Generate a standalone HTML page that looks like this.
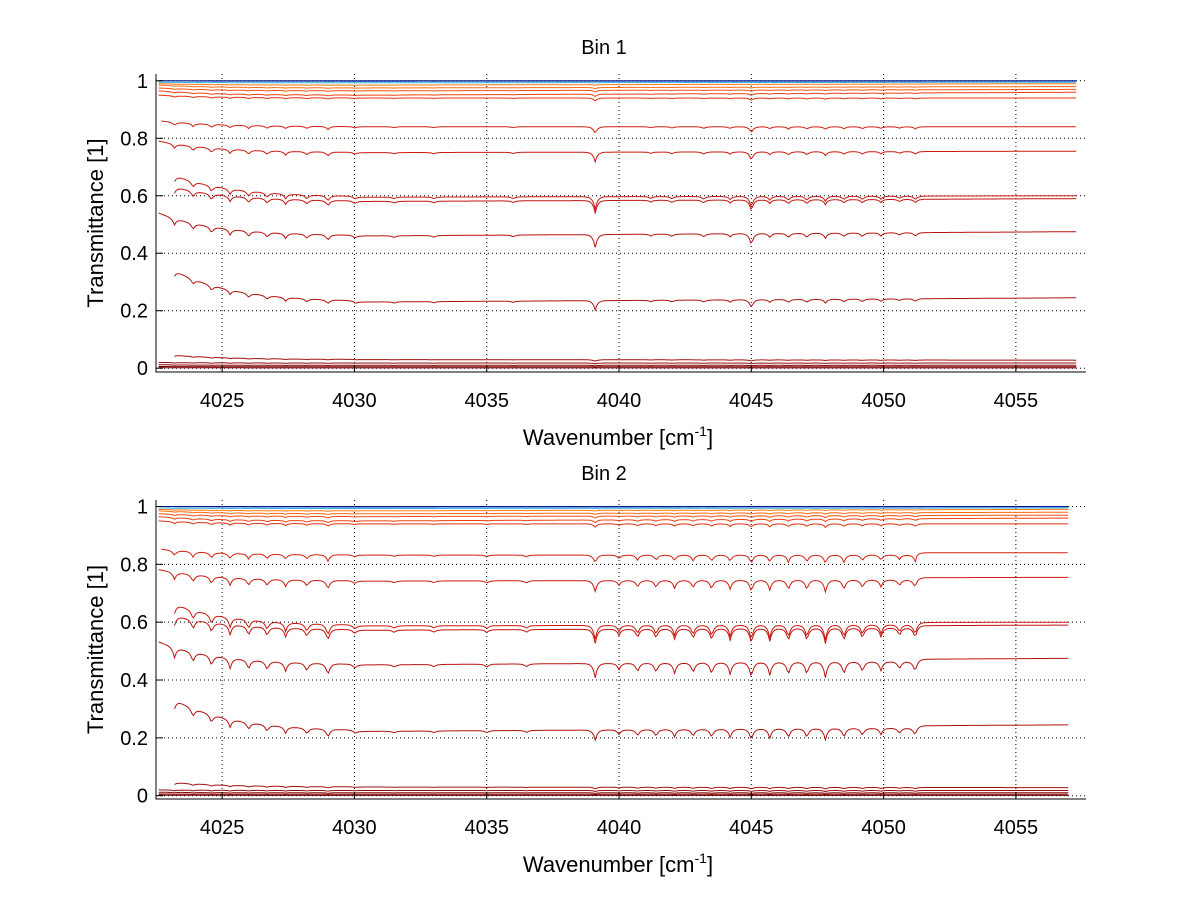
<!DOCTYPE html>
<html><head><meta charset="utf-8"><style>
html,body{margin:0;padding:0;background:#fff;width:1200px;height:901px;overflow:hidden}
svg{display:block;font-family:"Liberation Sans",sans-serif}
</style></head><body>
<svg id="chart" width="1200" height="901"></svg>
<script>
// ---- data ----
const xTicks = [4025, 4030, 4035, 4040, 4045, 4050, 4055];
const yTicks = [0, 0.2, 0.4, 0.6, 0.8, 1];
const yTickLabels = ["0", "0.2", "0.4", "0.6", "0.8", "1"];
const panelTitles = ["Bin 1", "Bin 2"];
// series: left value, plateau value, right value
const seriesLeft  = [1.0, 1.0, 0.995, 0.99, 0.985, 0.975, 0.965, 0.95, 0.86, 0.79, 0.67, 0.63, 0.54, 0.34, 0.045, 0.02, 0.012, 0.006, 0.002];
const seriesMid   = [1.0, 0.998, 0.993, 0.985, 0.975, 0.965, 0.95, 0.94, 0.84, 0.75, 0.595, 0.58, 0.46, 0.23, 0.03, 0.018, 0.01, 0.005, 0.001];
const seriesRight = [1.0, 0.999, 0.995, 0.99, 0.98, 0.97, 0.96, 0.94, 0.84, 0.755, 0.60, 0.59, 0.475, 0.245, 0.028, 0.018, 0.01, 0.005, 0.001];
const seriesColor = ["#0a1a8a","#1f5fd0","#30b0e0","#ff7a10","#ff6a10","#f85010","#f04010","#e03010","#d42010","#cc1a10","#c81810","#c01510","#b81410","#b01210","#a01010","#901010","#880808","#800000","#700000"];
const seriesStartTop = [4022.6,4022.6,4022.6,4022.6,4022.6,4022.6,4022.6,4022.6,4022.7,4022.6,4023.2,4023.2,4022.6,4023.2,4023.2,4022.6,4022.6,4022.6,4022.6];
const seriesEndTop = 4057.3;
const seriesEndBottom = 4057.0;
// absorption line positions and relative strengths
const linesTop = [4023.2,4023.9,4024.6,4025.3,4026.0,4026.7,4027.4,4028.2,4029.0,4030.0,4031.5,4033.0,4036.0,4039.1,4041.2,4042.0,4043.2,4044.2,4045.0,4045.7,4046.4,4047.1,4047.8,4048.5,4049.2,4049.9,4050.6,4051.2];
const strengthTop = [0.5,0.5,0.5,0.45,0.45,0.4,0.4,0.35,0.45,0.2,0.15,0.15,0.15,1.0,0.15,0.2,0.25,0.25,0.9,0.3,0.35,0.35,0.4,0.3,0.3,0.25,0.2,0.3];
const linesBottom = [4023.2,4023.9,4024.6,4025.3,4026.0,4026.7,4027.4,4028.2,4029.0,4030.0,4031.5,4033.0,4035.0,4036.5,4039.1,4040.0,4040.7,4041.4,4042.1,4042.8,4043.5,4044.2,4045.0,4045.7,4046.4,4047.1,4047.8,4048.5,4049.2,4049.9,4050.6,4051.2];
const strengthBottom = [0.8,0.8,0.8,0.8,0.75,0.7,0.7,0.65,0.9,0.3,0.2,0.2,0.25,0.25,1.1,0.5,0.7,0.75,0.8,0.8,0.9,0.9,1.2,1.0,1.0,1.0,1.2,1.0,0.8,0.7,0.6,0.9];

// ---- layout ----
const NS="http://www.w3.org/2000/svg";
const svg=document.getElementById('chart');
const xmin=4022.5,xmax=4057.65;
const panels=[{left:156,right:1086,top:74,bottom:372,y0:368.2,y1:80.8,lines:linesTop,str:strengthTop,end:seriesEndTop,step:0},
              {left:156,right:1086,top:500,bottom:799,y0:795.7,y1:506.5,lines:linesBottom,str:strengthBottom,end:seriesEndBottom,step:1}];
function mk(tag,attrs,parent){const e=document.createElementNS(NS,tag);for(const k in attrs)e.setAttribute(k,attrs[k]);(parent||svg).appendChild(e);return e;}

panels.forEach((p,pi)=>{
  const sx=v=>p.left+(v-xmin)/(xmax-xmin)*(p.right-p.left);
  const sy=v=>p.y0+(p.y1-p.y0)*v;
  const g=mk('g',{});
  
  
  xTicks.forEach(t=>{const l=mk('line',{x1:sx(t),x2:sx(t),y1:p.top,y2:p.bottom,stroke:'#000','stroke-width':1,'stroke-dasharray':'1,3'},g);
    });
  yTicks.forEach(t=>{const l=mk('line',{x1:p.left,x2:p.right,y1:sy(t),y2:sy(t),stroke:'#000','stroke-width':1,'stroke-dasharray':'1,3'},g);
    });
  const clip=mk('clipPath',{id:'clip'+pi},g);mk('rect',{x:p.left,y:p.top,width:p.right-p.left,height:p.bottom-p.top},clip);
  const sg=mk('g',{'clip-path':'url(#clip'+pi+')'},g);
  for(let s=seriesLeft.length-1;s>=0;s--){
    const a=seriesLeft[s],m=seriesMid[s],r=seriesRight[s];
    const xs0=seriesStartTop[s];
    let pts=[];
    for(let x=xs0;x<=p.end+1e-9;x+=0.06){
      let v;
      if(x<4030) v=m+(a-m)*Math.exp(-(x-xs0)/2.2);
      else v=m+(r-m)*Math.max(0,(x-4030)/(p.end-4030));
      if(p.step && x<4051.2 && v>0.1 && v<0.9) v-=0.008;
      const f=4*v*(1-v);
      let dip=0;
      p.lines.forEach((c,i)=>{dip+=p.str[i]*Math.exp(-Math.abs(x-c)/0.09);});
      v=v-0.045*f*dip;
      pts.push(sx(x).toFixed(1)+','+sy(v).toFixed(1));
    }
    const pl=mk('polyline',{points:pts.join(' '),fill:'none',stroke:seriesColor[s],'stroke-width':1},sg);
    
    
  }
  const ax=mk('path',{d:`M${p.left},${p.top}V${p.bottom}H${p.right}`,fill:'none',stroke:'#000','stroke-width':1},g);
  
  xTicks.forEach(t=>{mk('line',{x1:sx(t),x2:sx(t),y1:p.bottom,y2:p.bottom-7,stroke:'#000'},g);
    const tx=mk('text',{x:sx(t),y:p.bottom+35,'font-size':20,'text-anchor':'middle'},g);tx.textContent=t;
    });
  yTicks.forEach((t,i)=>{mk('line',{x1:p.left,x2:p.left+7,y1:sy(t),y2:sy(t),stroke:'#000'},g);
    const tx=mk('text',{x:p.left-8,y:sy(t)+7,'font-size':20,'text-anchor':'end'},g);tx.textContent=yTickLabels[i];
    });
  const ti=mk('text',{x:604,y:p.top-20,'font-size':20,'text-anchor':'middle'},g);ti.textContent=panelTitles[pi];
  
  const xl=mk('text',{x:618,y:p.bottom+73,'font-size':22,'text-anchor':'middle'},g);
  xl.innerHTML='Wavenumber [cm<tspan dy="-9" font-size="14">-1</tspan><tspan dy="9">]</tspan>';
  
  const cy=(p.top+p.bottom)/2;
  const yl=mk('text',{x:103,y:cy,'font-size':22,'text-anchor':'middle',transform:`rotate(-90 103 ${cy})`},g);yl.textContent='Transmittance [1]';
  
});
</script>
</body></html>
